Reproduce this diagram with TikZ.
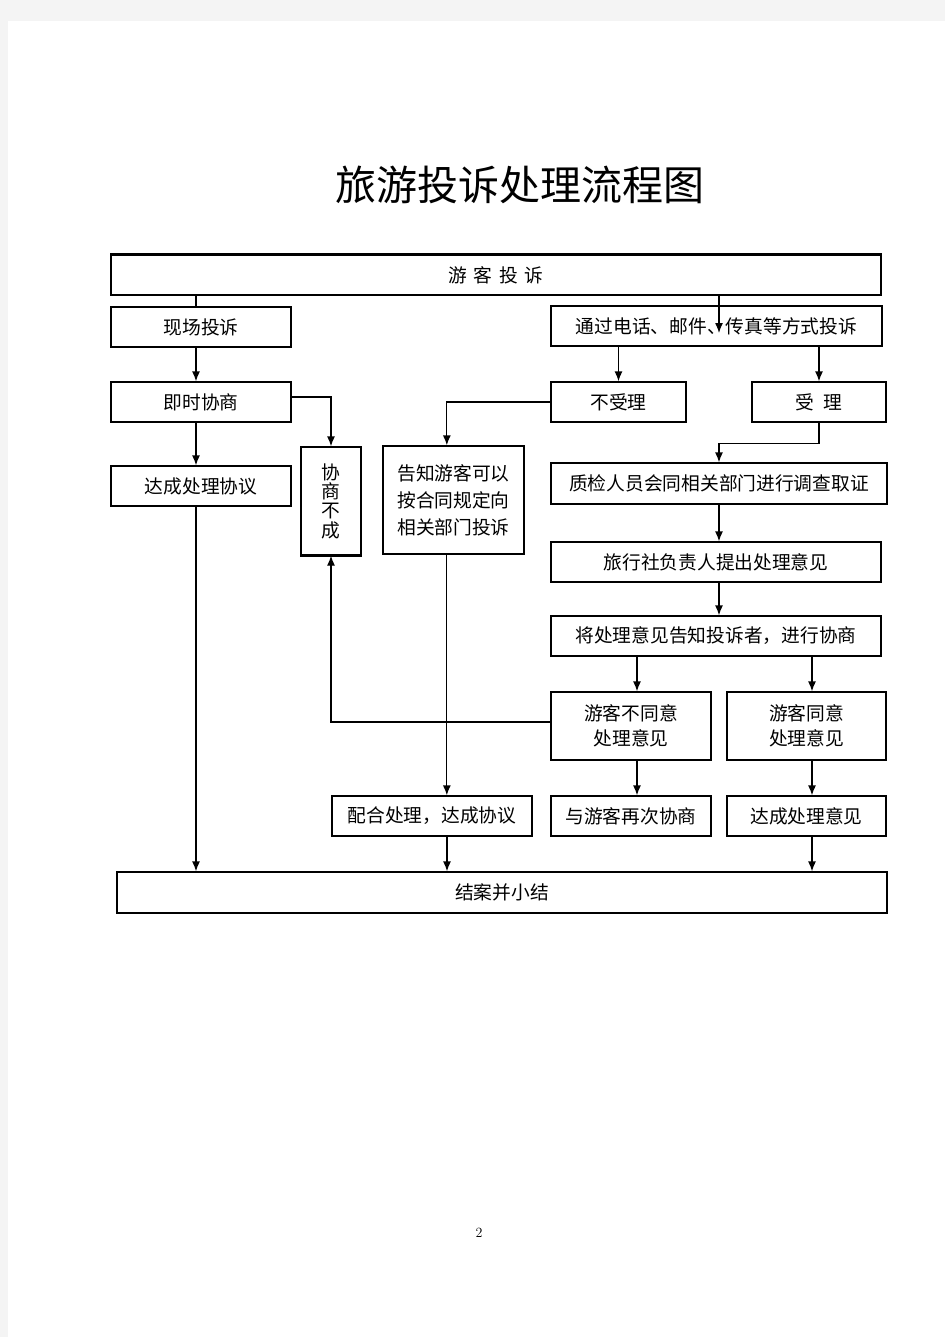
\documentclass[tikz,border=0pt]{standalone}
\usepackage{fontspec}
\usepackage{tikz}
\usetikzlibrary{arrows.meta}
\newfontfamily\cjk{Noto Sans CJK SC}
\definecolor{pagegray}{HTML}{F4F4F4}

\begin{document}
\begin{tikzpicture}
  [
    x = 0.03cm, y = 0.03cm, line width = 1.1pt,
    every node/.style = {font = \cjk\fontsize{16pt}{20pt}\selectfont},
    box/.style = {draw, rectangle, inner sep = 0pt, minimum height = 1.2cm, align = center},
    link/.style = {-{Latex[length = 3mm, width = 2.4mm]}}
  ]
  % page
  \fill[pagegray] (0,0) rectangle (945,-1337);
  \fill[white] (8,-21) rectangle (945,-1337);

  \node (Title) at (520,-185) {\fontsize{35pt}{40pt}\selectfont 旅游投诉处理流程图};

  % boxes
  \node[box, minimum width = 23.1cm] (Complaint) at (496,-275)
    {游\hspace{2mm}客\hspace{2mm}投\hspace{2mm}诉};
  \node[box, minimum width = 5.4cm]  (OnSite) at (201,-327) {现场投诉};
  \node[box, minimum width = 9.93cm] (Remote) at (716.5,-326) {通过电话、邮件、传真等方式投诉};
  \node[box, minimum width = 5.4cm]  (Talk) at (201,-402) {即时协商};
  \node[box, minimum width = 4.05cm] (Reject) at (618.5,-402) {不受理};
  \node[box, minimum width = 4.02cm] (Accept) at (819,-402) {受\hspace{3mm}理};
  \node[box, minimum width = 5.4cm]  (Deal) at (201,-486) {达成处理协议};
  \node[box, minimum width = 1.8cm, minimum height = 3.24cm,
        font = \cjk\fontsize{16pt}{16.5pt}\selectfont] (Fail) at (331,-501)
    {协\\商\\不\\成};
  \node[box, minimum width = 4.23cm, minimum height = 3.24cm,
        font = \cjk\fontsize{16pt}{23pt}\selectfont] (Inform) at (453.5,-500)
    {告知游客可以\\按合同规定向\\相关部门投诉};
  \node[box, minimum width = 10.08cm, minimum height = 1.23cm] (Check) at (719,-483.5)
    {质检人员会同相关部门进行调查取证};
  \node[box, minimum width = 9.9cm] (Propose) at (716,-562) {旅行社负责人提出处理意见};
  \node[box, minimum width = 9.9cm] (Notify) at (716,-636) {将处理意见告知投诉者，进行协商};
  \node[box, minimum width = 4.8cm, minimum height = 2.04cm,
        font = \cjk\fontsize{16pt}{21.3pt}\selectfont] (Disagree) at (631,-726)
    {游客不同意\\处理意见};
  \node[box, minimum width = 4.77cm, minimum height = 2.04cm,
        font = \cjk\fontsize{16pt}{21.3pt}\selectfont] (Agree) at (806.5,-726)
    {游客同意\\处理意见};
  \node[box, minimum width = 6cm]    (Cooperate) at (432,-816) {配合处理，达成协议};
  \node[box, minimum width = 4.8cm]  (Again) at (631,-816) {与游客再次协商};
  \node[box, minimum width = 4.77cm] (Reach) at (806.5,-816) {达成处理意见};
  \node[box, minimum width = 23.1cm, minimum height = 1.23cm] (Close) at (502,-892.5)
    {结案并小结};

  \node[font = \fontsize{12pt}{14pt}\selectfont] (PageNum) at (479,-1233) {2};

  % heavier edges
  \draw[line width = 2.2pt] (Complaint.north west) -- (Complaint.north east);
  \draw[line width = 2.2pt] (Fail.south west) -- (Fail.south east);

  % connectors
  \draw ([xshift=-0.15cm]Complaint.south -| OnSite.north) -- ([xshift=-0.15cm]OnSite.north);
  \draw[link] ([xshift=0.075cm]Complaint.south -| Remote.center)
    -- ([xshift=0.075cm, yshift=-0.21cm]Remote.center);
  \draw[link] ([xshift=-0.15cm]OnSite.south) -- ([xshift=-0.15cm]Talk.north);
  \draw[link] (Remote.south -| Reject.north) -- (Reject.north);
  \draw[link] (Remote.south -| Accept.north) -- (Accept.north);
  \draw[link] ([xshift=-0.15cm]Talk.south) -- ([xshift=-0.15cm]Deal.north);
  \draw[link] ([yshift=0.15cm]Talk.east) -| (Fail.north);
  \draw[link] (Reject.west) -| ([xshift=-0.2cm]Inform.north);
  \draw[link] (Accept.south) -- ++(0,-21) -| (Check.north);
  \draw[link] (Check.south) -- (Check.south |- Propose.north);
  \draw[link] (Propose.south -| Check.south) -- (Notify.north -| Check.south);
  \draw[link] ([xshift=0.18cm]Notify.south -| Disagree.north) -- ([xshift=0.18cm]Disagree.north);
  \draw[link] ([xshift=0.165cm]Notify.south -| Agree.north) -- ([xshift=0.165cm]Agree.north);
  \draw[link] ([yshift=0.12cm]Disagree.west) -| (Fail.south);
  \draw[link] ([xshift=-0.2cm]Inform.south) -- ([xshift=-0.2cm]Inform.south |- Cooperate.north);
  \draw[link] ([xshift=0.18cm]Disagree.south) -- ([xshift=0.18cm]Again.north);
  \draw[link] ([xshift=0.165cm]Agree.south) -- ([xshift=0.165cm]Reach.north);
  \draw[link] ([xshift=-0.15cm]Deal.south) -- ([xshift=-0.15cm]Deal.south |- Close.north);
  \draw[link] ([xshift=0.45cm]Cooperate.south) -- ([xshift=0.45cm]Cooperate.south |- Close.north);
  \draw[link] ([xshift=0.165cm]Reach.south) -- ([xshift=0.165cm]Reach.south |- Close.north);
\end{tikzpicture}
\end{document}
